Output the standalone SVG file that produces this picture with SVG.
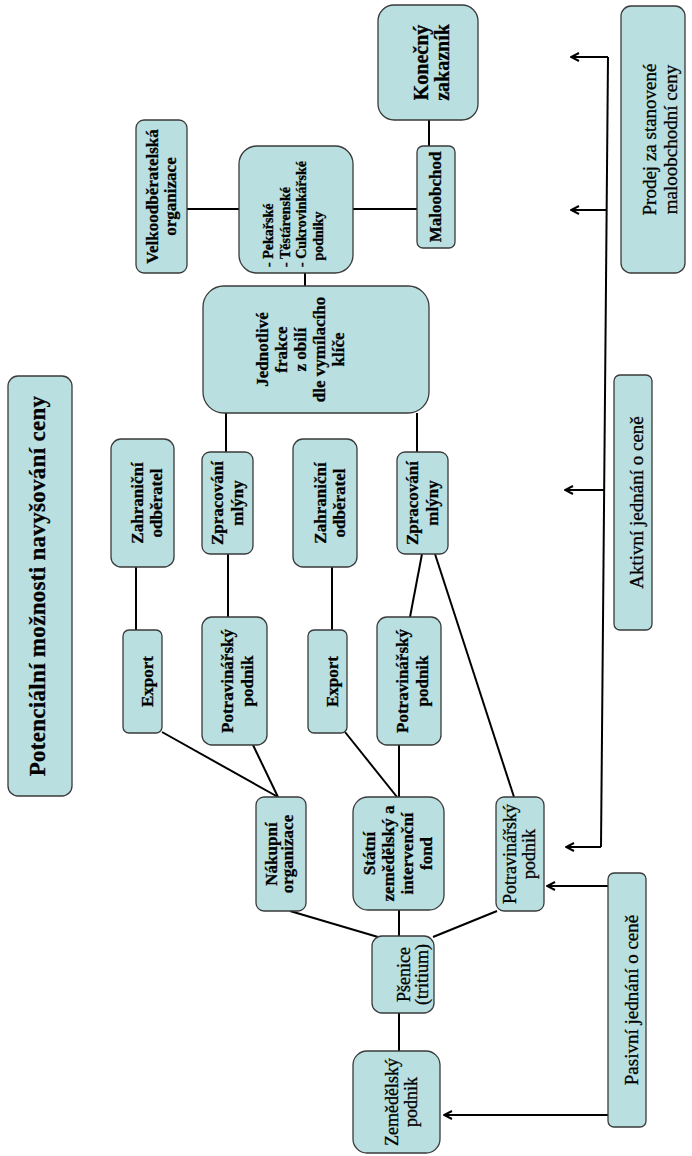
<svg xmlns="http://www.w3.org/2000/svg" width="692" height="1156" viewBox="0 0 692 1156">
<defs>
<style>
.n{fill:#badfe0;stroke:#3a3a3a;stroke-width:1.3}
text{stroke:#000;stroke-width:0.3px}
.t{font-family:"Liberation Serif","Times New Roman",serif;font-size:17px;font-weight:bold;fill:#000;text-anchor:middle}
.r{font-family:"Liberation Serif","Times New Roman",serif;font-size:19px;fill:#000;text-anchor:middle}
.q{font-family:"Liberation Serif","Times New Roman",serif;font-size:18px;fill:#000;text-anchor:middle}
.c path{fill:none;stroke:#000;stroke-width:2}
</style>
<marker id="a" viewBox="0 0 10 10" refX="9" refY="5" markerWidth="10" markerHeight="10" markerUnits="userSpaceOnUse" orient="auto">
<path d="M1,1 L9,5 L1,9" fill="none" stroke="#000" stroke-width="2"/>
</marker>
</defs>
<rect width="692" height="1156" fill="#fff"/>
<g class="c" id="connectors">
<path d="M187,209 H239"/>
<path d="M353,209 H417"/>
<path d="M429,120 V146"/>
<path d="M305,273 V286"/>
<path d="M226,413 V452"/>
<path d="M417,413 V452"/>
<path d="M136,567 V630"/>
<path d="M228,554 V617"/>
<path d="M332,567 V630"/>
<path d="M422,554 L410,617"/>
<path d="M435,554 L514,797"/>
<path d="M162,732 L278,797"/>
<path d="M253,745 L278,797"/>
<path d="M345,732 L397,797"/>
<path d="M399,745 V797"/>
<path d="M290,911 L378,937"/>
<path d="M399,910 V936"/>
<path d="M497,911 L433,937"/>
<path d="M399,1013 V1051"/>
<path d="M608,57 L601,847"/>
<path d="M608,57 H571" marker-end="url(#a)"/>
<path d="M607,210 H571" marker-end="url(#a)"/>
<path d="M604,490 H565" marker-end="url(#a)"/>
<path d="M601,847 H566" marker-end="url(#a)"/>
<path d="M608,886 H547" marker-end="url(#a)"/>
<path d="M608,1115 H444" marker-end="url(#a)"/>
</g>
<g id="title"><rect class="n" x="8" y="376" width="64" height="420" rx="10"/>
<g transform="translate(40,586) rotate(-90)"><text class="t" style="font-size:23px;letter-spacing:0.3px" x="0" y="5">Potenciální možnosti navyšování ceny</text></g></g>
<g id="velko"><rect class="n" x="136" y="120" width="51" height="153" rx="8"/>
<g transform="translate(161.5,196.5) rotate(-90)"><text class="t"><tspan x="0" y="-4">Velkoodběratelská</tspan><tspan x="0" y="14">organizace</tspan></text></g></g>
<g id="podniky"><rect class="n" x="239" y="146" width="114" height="127" rx="18"/>
<g transform="translate(296,209.5) rotate(-90)"><text class="t" style="font-size:14px;text-anchor:start"><tspan x="-57.5" y="-23">- Pekařské</tspan><tspan x="-57.5" y="-6.5">- Těstárenské</tspan><tspan x="-57.5" y="10">- Cukrovinkářské</tspan><tspan x="-51" y="26.5">podniky</tspan></text></g></g>
<g id="maloobchod"><rect class="n" x="417" y="146" width="38" height="102" rx="6"/>
<g transform="translate(436,197) rotate(-90)"><text class="t" x="0" y="5">Maloobchod</text></g></g>
<g id="zakaznik"><rect class="n" x="378" y="5" width="100" height="115" rx="16"/>
<g transform="translate(428,62.5) rotate(-90)"><text class="t" style="font-size:20px"><tspan x="0" y="0">Konečný</tspan><tspan x="0" y="21">zakazník</tspan></text></g></g>
<g id="prodej"><rect class="n" x="621" y="6" width="64" height="267" rx="10"/>
<g transform="translate(653,139.5) rotate(-90)"><text class="r"><tspan x="0" y="3">Prodej za stanovené</tspan><tspan x="0" y="24">maloobchodní ceny</tspan></text></g></g>
<g id="frakce"><rect class="n" x="203" y="286" width="226" height="127" rx="21"/>
<g transform="translate(316,349.5) rotate(-90)"><text class="t"><tspan x="0" y="-48">Jednotlivé</tspan><tspan x="0" y="-29">frakce</tspan><tspan x="0" y="-10">z obilí</tspan><tspan x="0" y="9">dle vymílacího</tspan><tspan x="0" y="28">klíče</tspan></text></g></g>
<g id="aktivni"><rect class="n" x="614" y="375" width="38" height="255" rx="6"/>
<g transform="translate(633,502.5) rotate(-90)"><text class="r" x="0" y="10">Aktivní jednání o ceně</text></g></g>
<g id="zahranicni1"><rect class="n" x="111" y="439" width="63" height="128" rx="10"/>
<g transform="translate(142.5,503) rotate(-90)"><text class="t"><tspan x="0" y="0">Zahraniční</tspan><tspan x="0" y="19">odběratel</tspan></text></g></g>
<g id="mlyny1"><rect class="n" x="202" y="452" width="51" height="102" rx="8"/>
<g transform="translate(227.5,503) rotate(-90)"><text class="t"><tspan x="0" y="-5">Zpracování</tspan><tspan x="0" y="15">mlýny</tspan></text></g></g>
<g id="zahranicni2"><rect class="n" x="293" y="439" width="64" height="128" rx="10"/>
<g transform="translate(325,503) rotate(-90)"><text class="t"><tspan x="0" y="1">Zahraniční</tspan><tspan x="0" y="20">odběratel</tspan></text></g></g>
<g id="mlyny2"><rect class="n" x="397" y="452" width="51" height="102" rx="8"/>
<g transform="translate(422.5,503) rotate(-90)"><text class="t"><tspan x="0" y="-5">Zpracování</tspan><tspan x="0" y="15">mlýny</tspan></text></g></g>
<g id="export1"><rect class="n" x="123" y="630" width="39" height="103" rx="6"/>
<g transform="translate(142.5,681.5) rotate(-90)"><text class="t" x="0" y="10">Export</text></g></g>
<g id="potravinarsky1"><rect class="n" x="202" y="617" width="65" height="128" rx="10"/>
<g transform="translate(234.5,681) rotate(-90)"><text class="t"><tspan x="0" y="-1.5">Potravinářský</tspan><tspan x="0" y="18.5">podnik</tspan></text></g></g>
<g id="export2"><rect class="n" x="308" y="630" width="39" height="103" rx="6"/>
<g transform="translate(327.5,681.5) rotate(-90)"><text class="t" x="0" y="10">Export</text></g></g>
<g id="potravinarsky2"><rect class="n" x="377" y="617" width="64" height="128" rx="10"/>
<g transform="translate(409,681) rotate(-90)"><text class="t"><tspan x="0" y="-1">Potravinářský</tspan><tspan x="0" y="19">podnik</tspan></text></g></g>
<g id="nakupni"><rect class="n" x="256" y="797" width="50" height="114" rx="8"/>
<g transform="translate(281,854) rotate(-90)"><text class="t"><tspan x="0" y="-4.5">Nákupní</tspan><tspan x="0" y="12">organizace</tspan></text></g></g>
<g id="szif"><rect class="n" x="353" y="797" width="91" height="113" rx="15"/>
<g transform="translate(398.5,853.5) rotate(-90)"><text class="t"><tspan x="0" y="-23.5">Státní</tspan><tspan x="0" y="-4.5">zemědělský a</tspan><tspan x="0" y="14.5">intervenční</tspan><tspan x="0" y="33.5">fond</tspan></text></g></g>
<g id="potravinarsky3"><rect class="n" x="496" y="797" width="48" height="114" rx="8"/>
<g transform="translate(520,854) rotate(-90)"><text class="q"><tspan x="0" y="-4">Potravinářský</tspan><tspan x="0" y="15">podnik</tspan></text></g></g>
<g id="psenice"><rect class="n" x="372" y="936" width="62" height="77" rx="10"/>
<g transform="translate(403,974.5) rotate(-90)"><text class="q"><tspan x="0" y="7">Pšenice</tspan><tspan x="0" y="25">(tritium)</tspan></text></g></g>
<g id="zemedelsky"><rect class="n" x="353" y="1051" width="87" height="102" rx="14"/>
<g transform="translate(396.5,1102) rotate(-90)"><text class="q"><tspan x="0" y="1.5">Zemědělský</tspan><tspan x="0" y="20.5">podnik</tspan></text></g></g>
<g id="pasivni"><rect class="n" x="608" y="873" width="38" height="254" rx="6"/>
<g transform="translate(627,1000) rotate(-90)"><text class="r" x="0" y="11">Pasivní jednání o ceně</text></g></g>
</svg>
